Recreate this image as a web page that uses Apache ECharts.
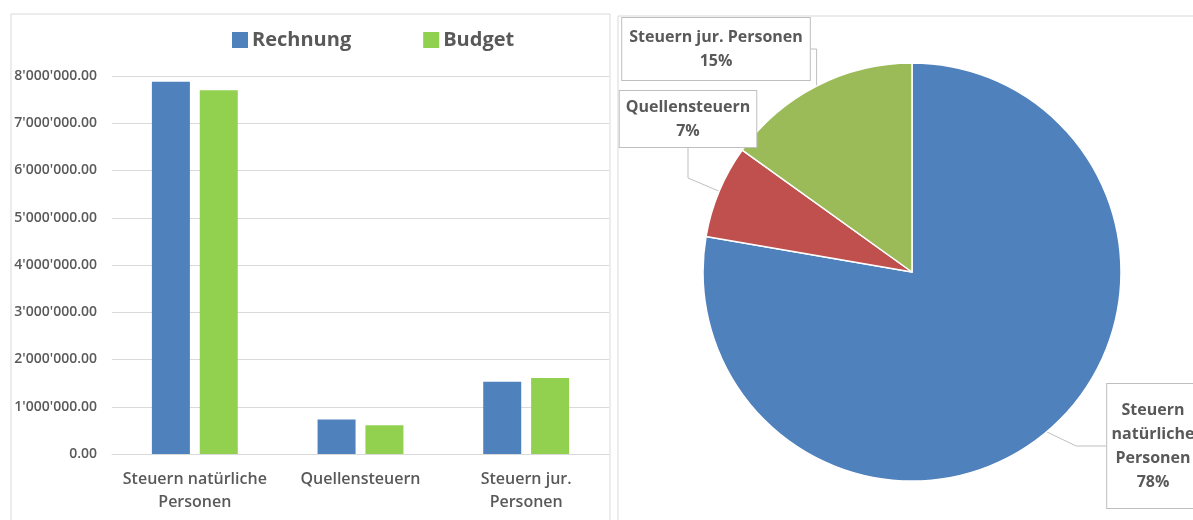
<!DOCTYPE html>
<html>
<head>
<meta charset="utf-8">
<script src="https://cdn.jsdelivr.net/npm/echarts@6/dist/echarts.min.js"></script>
<style>
  html, body { margin: 0; padding: 0; background: #fff; }
  #main { width: 1193px; height: 520px; }
</style>
</head>
<body>
<div id="main"></div>
<script>
// data
const categories = ["Steuern natürliche\nPersonen", "Quellensteuern", "Steuern jur.\nPersonen"];
const rechnung = [7880000, 730000, 1530000];
const budget = [7700000, 610000, 1610000];

const pieNames = ["Steuern\nnatürliche\nPersonen", "Quellensteuern", "Steuern jur. Personen"];
const pieValues = rechnung;

// where the callout boxes sit (label layout only)
const calloutPos = [
	{ x: 1153, y: 446 },
	{ x: 688, y: 119 },
	{ x: 716, y: 49 },
];
const calloutPad = [
	[14, 14],
	[4, 6],
	[7, 7],
];

const textColor = "#595959";
const fontFam = "'Open Sans', sans-serif";

function fmt(v) {
	let s = Math.round(v).toString().replace(/\B(?=(\d{3})+(?!\d))/g, "'");
	return s + ".00";
}

let myChart = echarts.init(document.getElementById("main"), null, { renderer: "canvas" });

let option = {
	animation: false,
	textStyle: { fontFamily: fontFam },
	graphic: [
		{ type: "rect", shape: { x: 11, y: 14, width: 599, height: 520 }, style: { fill: "none", stroke: "#d9d9d9", lineWidth: 1 } },
		{ type: "rect", shape: { x: 618, y: 16, width: 600, height: 520 }, style: { fill: "none", stroke: "#d9d9d9", lineWidth: 1 } },
	],
	legend: {
		data: ["Rechnung", "Budget"],
		left: 227,
		top: 25,
		itemWidth: 16,
		itemHeight: 16,
		itemGap: 72,
		icon: "rect",
		textStyle: { fontSize: 20, fontWeight: "bold", color: textColor, fontFamily: fontFam, padding: [0, 0, 0, -1] },
	},
	grid: { left: 112, width: 497, top: 76, bottom: 66 },
	xAxis: {
		type: "category",
		data: categories,
		axisLine: { lineStyle: { color: "#d9d9d9" } },
		axisTick: { show: false },
		axisLabel: { color: textColor, fontSize: 16, fontWeight: 600, margin: 14, lineHeight: 23, fontFamily: fontFam, interval: 0 },
	},
	yAxis: {
		type: "value",
		min: 0,
		max: 8000000,
		interval: 1000000,
		axisLine: { show: false },
		axisTick: { show: false },
		splitLine: { lineStyle: { color: "#d9d9d9" } },
		axisLabel: { color: textColor, fontSize: 14, fontWeight: 600, margin: 15, formatter: fmt, fontFamily: fontFam },
	},
	series: [
		{
			name: "Rechnung",
			type: "bar",
			data: rechnung,
			barWidth: 38,
			barGap: "26%",
			itemStyle: { color: "#4f81bd" },
		},
		{
			name: "Budget",
			type: "bar",
			data: budget,
			barWidth: 38,
			itemStyle: { color: "#92d050" },
		},
		{
			name: "Anteil",
			type: "pie",
			center: [912, 272],
			radius: 209,
			startAngle: 90,
			clockwise: true,
			data: pieNames.map((n, i) => ({ name: n, value: pieValues[i], label: { padding: calloutPad[i] } })),
			color: ["#4f81bd", "#c0504d", "#9bbb59"],
			itemStyle: { borderColor: "#fff", borderWidth: 1.5 },
			label: {
				show: true,
				position: "outside",
				formatter: (p) => p.name + "\n" + Math.round(p.percent) + "%",
				color: textColor,
				fontSize: 16,
				fontWeight: "bold",
				lineHeight: 24,
				align: "center",
				overflow: "none",
				backgroundColor: "#fff",
				borderColor: "#bfbfbf",
				borderWidth: 1,
				fontFamily: fontFam,
			},
			labelLine: { show: true, lineStyle: { color: "#bfbfbf", width: 1 } },
			labelLayout: (p) => {
				const pos = calloutPos[p.dataIndex];
				return { x: pos.x, y: pos.y, align: "center", verticalAlign: "middle" };
			},
		},
	],
};
myChart.setOption(option);
</script>
</body>
</html>
